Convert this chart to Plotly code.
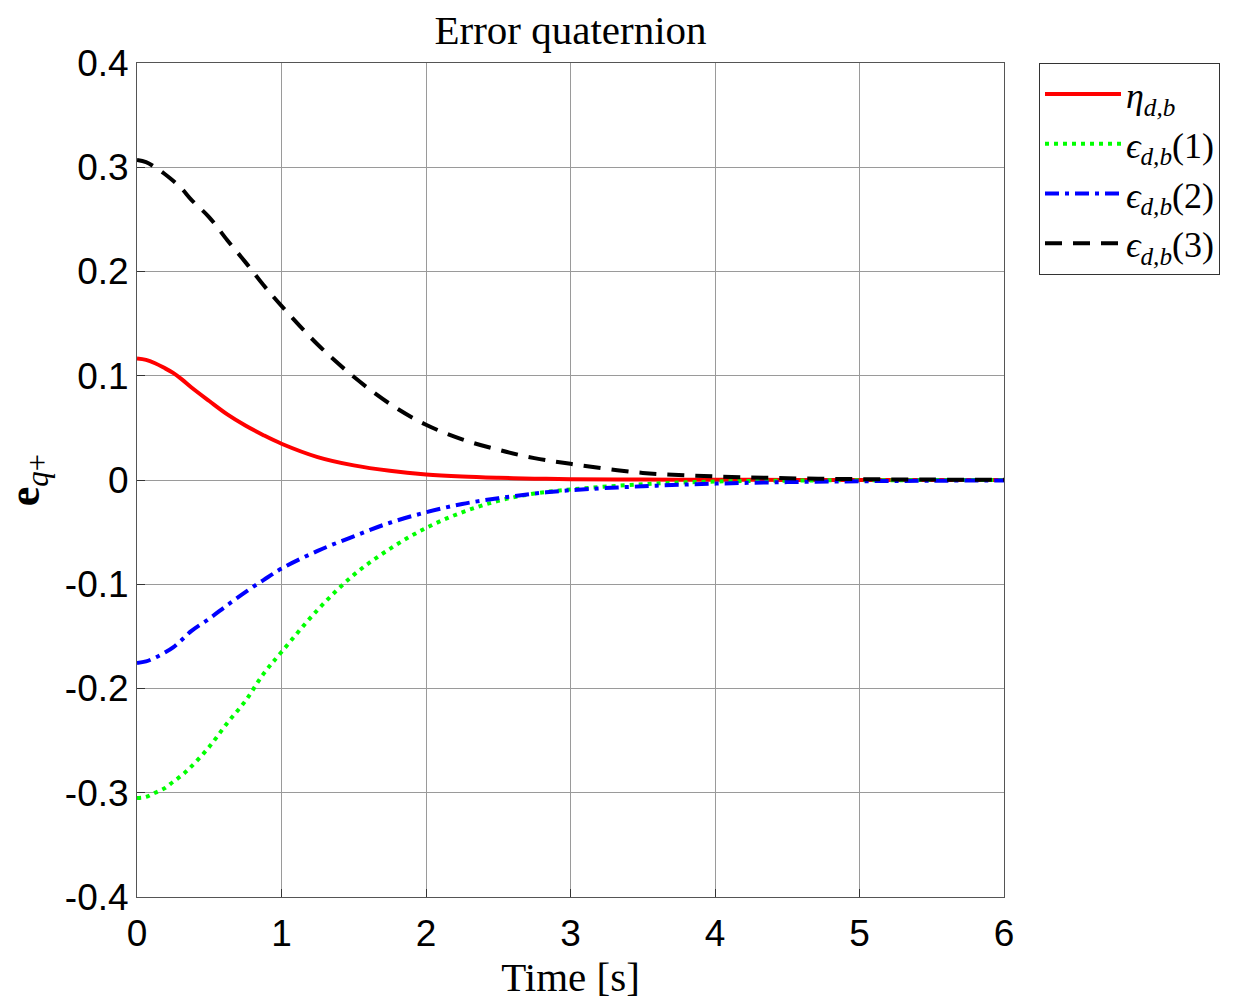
import plotly.graph_objects as go

t = [0, 0.0625, 0.125, 0.1875, 0.25, 0.3125, 0.375, 0.5, 0.625, 0.75, 0.875, 1.0, 1.25, 1.5, 1.75, 2.0, 2.25, 2.5, 2.75, 3.0, 3.5, 4.0, 4.5, 5.0, 5.5, 6.0]
eta = [0.1165, 0.1152, 0.1120, 0.1076, 0.1027, 0.0963, 0.0890, 0.0758, 0.0630, 0.0523, 0.0430, 0.0348, 0.0220, 0.0140, 0.0088, 0.0053, 0.0033, 0.0021, 0.0013, 0.0008, 0.0004, 0.0002, 0.0001, 0.0, 0.0, 0.0]
eps1 = [-0.305, -0.304, -0.300, -0.296, -0.2895, -0.283, -0.275, -0.256, -0.233, -0.212, -0.186, -0.165, -0.1246, -0.091, -0.066, -0.046, -0.031, -0.020, -0.013, -0.0091, -0.0040, -0.0015, -0.0006, -0.0002, -0.0001, 0.0]
eps2 = [-0.1755, -0.1740, -0.1705, -0.1660, -0.1606, -0.1530, -0.1450, -0.1330, -0.1200, -0.1075, -0.0960, -0.0850, -0.0680, -0.0540, -0.0410, -0.0310, -0.0230, -0.0175, -0.0130, -0.0098, -0.0060, -0.0035, -0.0020, -0.0012, -0.0007, -0.0004]
eps3 = [0.307, 0.305, 0.300, 0.294, 0.287, 0.279, 0.269, 0.252, 0.230, 0.209, 0.187, 0.167, 0.130, 0.099, 0.073, 0.053, 0.039, 0.029, 0.021, 0.0155, 0.0068, 0.0034, 0.0017, 0.0008, 0.0004, 0.0002]

names = ["<i>η</i><sub><i>d,b</i></sub>",
         "<i>ϵ</i><sub><i>d,b</i></sub>(1)",
         "<i>ϵ</i><sub><i>d,b</i></sub>(2)",
         "<i>ϵ</i><sub><i>d,b</i></sub>(3)"]
series = [eta, eps1, eps2, eps3]
colors = ["#ff0000", "#00ff00", "#0000ff", "#000000"]
dashes = ["solid", "4px,5px", "14px,6px,4px,6px", "17px,11px"]

fig = go.Figure()
for nm, ys, c, d in zip(names, series, colors, dashes):
    fig.add_trace(go.Scatter(x=t, y=ys, mode="lines", name=nm,
                             line=dict(color=c, width=4, dash=d, shape="spline", smoothing=1.0)))

serif = "Liberation Serif, DejaVu Serif, serif"
sans = "Liberation Sans, Arial, sans-serif"

fig.update_layout(
    width=1243, height=1005,
    margin=dict(l=137, r=239, t=63, b=108),
    paper_bgcolor="white", plot_bgcolor="white",
    title=dict(text="Error quaternion", x=(137 + 1004) / 2 / 1243, xanchor="center",
               y=1 - 30 / 1005, yanchor="middle", font=dict(family=serif, size=41, color="black")),
    xaxis=dict(range=[0, 6], tickvals=[0, 1, 2, 3, 4, 5, 6], ticks="inside", ticklen=8,
               tickcolor="#333", showline=True, linecolor="#555", linewidth=1, mirror=True,
               showgrid=True, gridcolor="#9a9a9a", gridwidth=1, zeroline=False,
               ticklabelstandoff=4,
               tickfont=dict(family=sans, size=37, color="black"),
               title=dict(text="Time [s]", font=dict(family=serif, size=41, color="black"), standoff=2)),
    yaxis=dict(range=[-0.4, 0.4], tickvals=[-0.4, -0.3, -0.2, -0.1, 0, 0.1, 0.2, 0.3, 0.4],
               ticktext=["-0.4", "-0.3", "-0.2", "-0.1", "0", "0.1", "0.2", "0.3", "0.4"],
               ticks="inside", ticklen=8, tickcolor="#333",
               showline=True, linecolor="#555", linewidth=1, mirror=True,
               showgrid=True, gridcolor="#9a9a9a", gridwidth=1, zeroline=False,
               tickfont=dict(family=sans, size=37, color="black"),
               title=dict(text="<b>e</b><sub><i>q</i>+</sub>", font=dict(family=serif, size=44, color="black"), standoff=14)),
    legend=dict(x=(1039 - 137) / 867, xanchor="left", y=1, yanchor="top",
                bordercolor="#333", borderwidth=1, bgcolor="white",
                font=dict(family=serif, size=36, color="black"), itemwidth=76,
                tracegroupgap=2),
    showlegend=True,
)

fig.write_html("out.html")
